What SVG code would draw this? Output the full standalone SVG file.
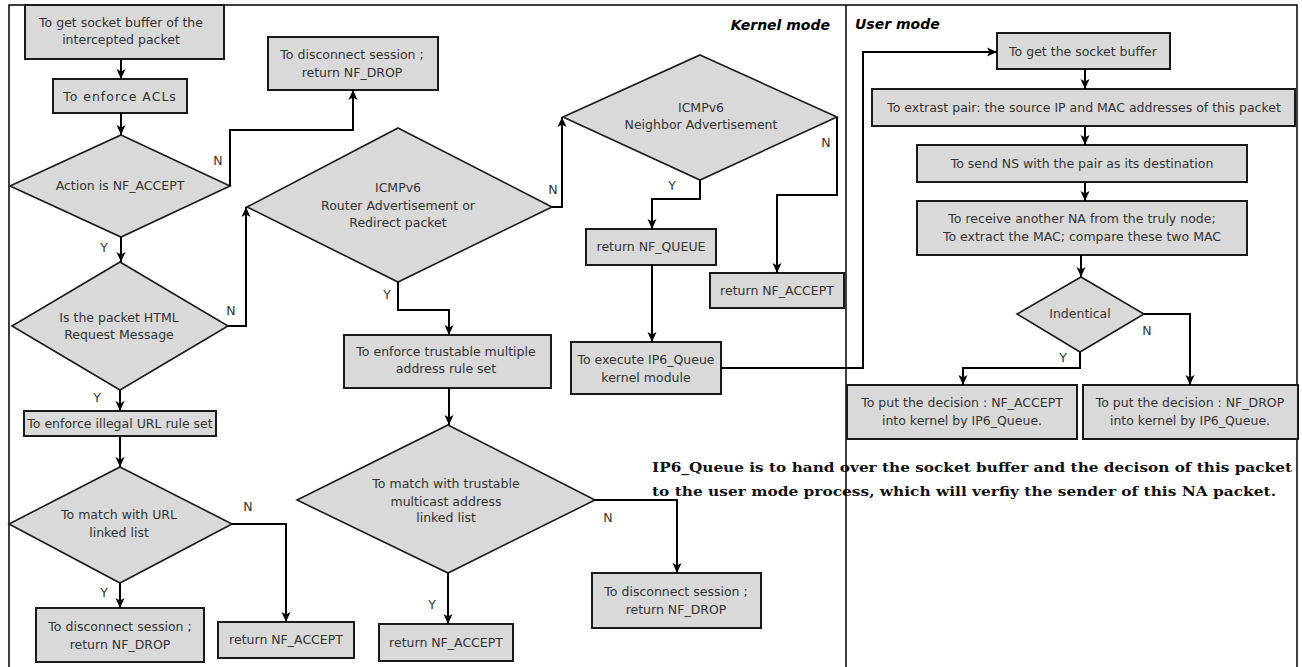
<svg xmlns="http://www.w3.org/2000/svg" width="1302" height="667" viewBox="0 0 1302 667">
  <style>
    .box { fill: #d9d9d9; stroke: #1a1a1a; stroke-width: 2; }
    .dia { fill: #d9d9d9; stroke: #1a1a1a; stroke-width: 1.6; }
    .t { font-family: "DejaVu Sans", "Liberation Sans", sans-serif; font-size: 12.5px; fill: #333; text-anchor: middle; }
    .lbl { font-family: "DejaVu Sans", "Liberation Sans", sans-serif; font-size: 12.5px; fill: #333; text-anchor: middle; }
    .conn { fill: none; stroke: #000; stroke-width: 2; marker-end: url(#arrow); }
    .frame { fill: none; stroke: #000; stroke-width: 1.5; }
    .mode { font-family: "DejaVu Sans", sans-serif; font-size: 14px; font-weight: bold; font-style: italic; fill: #000; }
    .note { font-family: "DejaVu Serif", "Liberation Serif", serif; font-size: 13.5px; font-weight: bold; fill: #111; }
  </style>
  <defs>
    <marker id="arrow" markerUnits="userSpaceOnUse" markerWidth="11" markerHeight="10" refX="10" refY="5" orient="auto">
      <path d="M0,0.5 L10,5 L0,9.5 L2.5,5 z" fill="#000"/>
    </marker>
  </defs>

  <rect width="1302" height="667" fill="#fff"/>

  <!-- explanatory note about IP6_Queue -->
  <g id="note">
    <text class="note" x="652" y="472" textLength="640" lengthAdjust="spacingAndGlyphs">IP6_Queue is to hand over the socket buffer and the decison of this packet</text>
    <text class="note" x="652" y="496" textLength="624" lengthAdjust="spacingAndGlyphs">to the user mode process, which will verfiy the sender of this NA packet.</text>
  </g>

  <!-- outer frame and kernel/user divider -->
  <g id="frame">
    <path class="frame" d="M9,667 V5 H1297 V667"/>
    <line class="frame" x1="846" y1="5" x2="846" y2="667"/>
    <text class="mode" x="830" y="30" text-anchor="end">Kernel mode</text>
    <text class="mode" x="855" y="29">User mode</text>
  </g>

  <!-- kernel mode: left column -->
  <g id="get-skb">
    <rect class="box" x="25" y="5" width="199" height="54"/>
    <text class="t" x="121" y="27">To get socket buffer of the</text>
    <text class="t" x="121" y="44">intercepted packet</text>
  </g>
  <g id="enforce-acls">
    <rect class="box" x="53" y="79" width="134" height="34"/>
    <text class="t" x="120" y="101" letter-spacing="1">To enforce ACLs</text>
  </g>
  <g id="action-accept">
    <polygon class="dia" points="121,135 230,186 121,237 10,186"/>
    <text class="t" x="120" y="190">Action is NF_ACCEPT</text>
  </g>
  <g id="drop-1">
    <rect class="box" x="268" y="37" width="170" height="53"/>
    <text class="t" x="352" y="59">To disconnect session ;</text>
    <text class="t" x="352" y="77">return NF_DROP</text>
  </g>
  <g id="is-html">
    <polygon class="dia" points="120,262 228,326 120,390 12,326"/>
    <text class="t" x="119" y="322">Is the packet HTML</text>
    <text class="t" x="119" y="339">Request Message</text>
  </g>
  <g id="enforce-url">
    <rect class="box" x="24" y="411" width="192" height="25"/>
    <text class="t" x="120" y="428">To enforce illegal URL rule set</text>
  </g>
  <g id="match-url">
    <polygon class="dia" points="120,467 232,524 120,583 9,524"/>
    <text class="t" x="119" y="519">To match with URL</text>
    <text class="t" x="119" y="537">linked list</text>
  </g>
  <g id="drop-2">
    <rect class="box" x="36" y="608" width="168" height="54"/>
    <text class="t" x="120" y="631">To disconnect session ;</text>
    <text class="t" x="120" y="649">return NF_DROP</text>
  </g>
  <g id="accept-1">
    <rect class="box" x="218" y="622" width="136" height="36"/>
    <text class="t" x="286" y="644">return NF_ACCEPT</text>
  </g>

  <!-- kernel mode: middle column -->
  <g id="router-adv">
    <polygon class="dia" points="398,128 552,207 398,282 247,207"/>
    <text class="t" x="398" y="192">ICMPv6</text>
    <text class="t" x="398" y="210">Router Advertisement or</text>
    <text class="t" x="398" y="227">Redirect packet</text>
  </g>
  <g id="enforce-multi">
    <rect class="box" x="344" y="335" width="207" height="53"/>
    <text class="t" x="446" y="356">To enforce trustable multiple</text>
    <text class="t" x="446" y="373">address rule set</text>
  </g>
  <g id="match-multi">
    <polygon class="dia" points="448,425 595,500 448,573 297,500"/>
    <text class="t" x="446" y="488">To match with trustable</text>
    <text class="t" x="446" y="506">multicast address</text>
    <text class="t" x="446" y="522">linked list</text>
  </g>
  <g id="accept-2">
    <rect class="box" x="379" y="624" width="134" height="37"/>
    <text class="t" x="446" y="647">return NF_ACCEPT</text>
  </g>
  <g id="drop-3">
    <rect class="box" x="592" y="573" width="169" height="55"/>
    <text class="t" x="676" y="596">To disconnect session ;</text>
    <text class="t" x="676" y="614">return NF_DROP</text>
  </g>

  <!-- kernel mode: right column -->
  <g id="neighbor-adv">
    <polygon class="dia" points="700,55 837,117 700,180 563,117"/>
    <text class="t" x="701" y="112">ICMPv6</text>
    <text class="t" x="701" y="129">Neighbor Advertisement</text>
  </g>
  <g id="queue">
    <rect class="box" x="586" y="229" width="130" height="36"/>
    <text class="t" x="651" y="251">return NF_QUEUE</text>
  </g>
  <g id="accept-3">
    <rect class="box" x="710" y="273" width="134" height="35"/>
    <text class="t" x="777" y="295">return NF_ACCEPT</text>
  </g>
  <g id="ip6-queue">
    <rect class="box" x="571" y="342" width="150" height="52"/>
    <text class="t" x="646" y="364">To execute IP6_Queue</text>
    <text class="t" x="646" y="382">kernel module</text>
  </g>

  <!-- user mode -->
  <g id="get-buffer">
    <rect class="box" x="997" y="33" width="173" height="36"/>
    <text class="t" x="1083" y="56">To get the socket buffer</text>
  </g>
  <g id="extract-pair">
    <rect class="box" x="872" y="89" width="423" height="37"/>
    <text class="t" x="1084" y="112">To extrast pair: the source IP and MAC addresses of this packet</text>
  </g>
  <g id="send-ns">
    <rect class="box" x="917" y="145" width="330" height="37"/>
    <text class="t" x="1082" y="168">To send NS with the pair as its destination</text>
  </g>
  <g id="receive-na">
    <rect class="box" x="917" y="201" width="330" height="54"/>
    <text class="t" x="1082" y="223">To receive another NA from the truly node;</text>
    <text class="t" x="1082" y="241">To extract the MAC; compare these two MAC</text>
  </g>
  <g id="identical">
    <polygon class="dia" points="1081,277 1144,314 1080,352 1017,314"/>
    <text class="t" x="1080" y="318">Indentical</text>
  </g>
  <g id="put-accept">
    <rect class="box" x="847" y="385" width="230" height="54"/>
    <text class="t" x="962" y="407">To put the decision : NF_ACCEPT</text>
    <text class="t" x="962" y="425">into kernel by IP6_Queue.</text>
  </g>
  <g id="put-drop">
    <rect class="box" x="1083" y="385" width="215" height="54"/>
    <text class="t" x="1190" y="407">To put the decision : NF_DROP</text>
    <text class="t" x="1190" y="425">into kernel by IP6_Queue.</text>
  </g>

  <!-- connectors -->
  <g id="connectors">
    <path class="conn" d="M121,59 V79"/>
    <path class="conn" d="M121,113 V135"/>
    <path class="conn" d="M121,237 V262"/>
    <path class="conn" d="M230,186 V130 H353 V90"/>
    <path class="conn" d="M120,390 V411"/>
    <path class="conn" d="M228,326 H246 V207"/>
    <path class="conn" d="M120,436 V467"/>
    <path class="conn" d="M120,583 V608"/>
    <path class="conn" d="M232,524 H286 V622"/>
    <path class="conn" d="M552,207 H562 V117"/>
    <path class="conn" d="M398,282 V310 H449 V335"/>
    <path class="conn" d="M449,388 V425"/>
    <path class="conn" d="M448,573 V624"/>
    <path class="conn" d="M595,500 H677 V573"/>
    <path class="conn" d="M700,180 V199 H652 V229"/>
    <path class="conn" d="M837,117 V195 H777 V273"/>
    <path class="conn" d="M652,265 V342"/>
    <path class="conn" d="M721,368 H863 V52 H997"/>
    <path class="conn" d="M1085,69 V89"/>
    <path class="conn" d="M1085,126 V145"/>
    <path class="conn" d="M1085,182 V201"/>
    <path class="conn" d="M1081,255 V277"/>
    <path class="conn" d="M1144,314 H1190 V385"/>
    <path class="conn" d="M1080,352 V368 H963 V385"/>
  </g>

  <!-- branch labels -->
  <g id="labels">
    <text class="lbl" x="218" y="165">N</text>
    <text class="lbl" x="104" y="252">Y</text>
    <text class="lbl" x="231" y="315">N</text>
    <text class="lbl" x="97" y="402">Y</text>
    <text class="lbl" x="248" y="511">N</text>
    <text class="lbl" x="104" y="597">Y</text>
    <text class="lbl" x="553" y="194">N</text>
    <text class="lbl" x="387" y="299">Y</text>
    <text class="lbl" x="608" y="522">N</text>
    <text class="lbl" x="432" y="609">Y</text>
    <text class="lbl" x="672" y="190">Y</text>
    <text class="lbl" x="826" y="147">N</text>
    <text class="lbl" x="1147" y="335">N</text>
    <text class="lbl" x="1063" y="362">Y</text>
  </g>
</svg>
